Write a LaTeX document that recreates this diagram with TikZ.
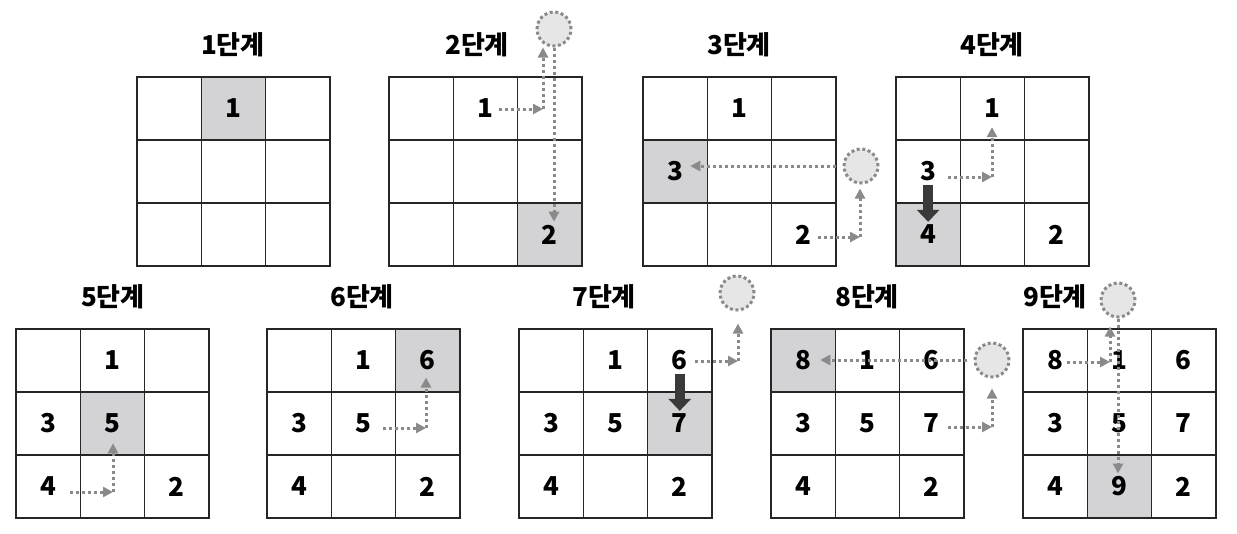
\documentclass[tikz,border=0pt]{standalone}
\usepackage{fontspec}
\setmainfont{Noto Sans CJK KR}
\usetikzlibrary{arrows.meta}
\definecolor{cellgray}{HTML}{D3D2D4}
\definecolor{holegray}{HTML}{E6E6E6}
\definecolor{dotgray}{HTML}{8A8A8A}
\definecolor{darkarrow}{HTML}{3A3A3A}
\begin{document}
\begin{tikzpicture}[x=1pt,y=-1pt,
  cell/.style={draw=black!85,line width=1.5pt},
  num/.style={font=\bfseries\fontsize{26}{26}\selectfont,inner sep=3pt},
  title/.style={font=\bfseries\fontsize{26}{26}\selectfont},
  hole/.style={circle,minimum size=34pt,inner sep=0pt,fill=holegray,draw=dotgray,line width=3pt,dash pattern=on 3pt off 2.6pt},
  dotarr/.style={draw=dotgray,line width=3pt,dash pattern=on 3pt off 3pt,-{Triangle[length=10pt,width=10pt]}},
  bigarr/.style={draw=darkarrow,line width=10.5pt,-{Triangle[length=12pt,width=22pt]}}]
\useasboundingbox (0,0) rectangle (1237,533);

% grids: number, origin, shaded cell, numbers in it
\foreach \g/\gx/\gy/\hc/\hr/\cells in {
  1/137/77/1/0/{1/1/0},
  2/389/77/2/2/{1/1/0,2/2/2},
  3/643/77/0/1/{1/1/0,3/0/1,2/2/2},
  4/896/77/0/2/{1/1/0,3/0/1,4/0/2,2/2/2},
  5/16/329/1/1/{1/1/0,3/0/1,5/1/1,4/0/2,2/2/2},
  6/267/329/2/0/{1/1/0,6/2/0,3/0/1,5/1/1,4/0/2,2/2/2},
  7/519/329/2/1/{1/1/0,6/2/0,3/0/1,5/1/1,7/2/1,4/0/2,2/2/2},
  8/771/329/0/0/{8/0/0,1/1/0,6/2/0,3/0/1,5/1/1,7/2/1,4/0/2,2/2/2},
  9/1023/329/1/2/{8/0/0,1/1/0,6/2/0,3/0/1,5/1/1,7/2/1,4/0/2,9/1/2,2/2/2}}{
  \fill[cellgray] ({\gx+\hc*64.3},{\gy+\hr*63}) rectangle ++(64.3,63);
  \foreach \c in {0,1,2}
    \foreach \r in {0,1,2}
      \draw[cell] ({\gx+\c*64.3},{\gy+\r*63}) rectangle ++(64.3,63);
  \foreach \n/\c/\r in \cells
    \node[num] (g\g-\n) at ({\gx+(\c+.5)*64.3},{\gy+(\r+.5)*63}) {\n};
}

% titles
\node[title] (t1) at (233,45) {1단계};
\node[title] (t2) at (477,45) {2단계};
\node[title] (t3) at (739,45) {3단계};
\node[title] (t4) at (992,45) {4단계};
\node[title] (t5) at (113,297) {5단계};
\node[title] (t6) at (362,297) {6단계};
\node[title] (t7) at (604,297) {7단계};
\node[title] (t8) at (867,297) {8단계};
\node[title] (t9) at (1055,297) {9단계};

% empty places
\node[hole] (c2) at (554,29) {};
\node[hole] (c3) at (861,166) {};
\node[hole] (c7) at (737,293) {};
\node[hole] (c8) at (992,360) {};
\node[hole] (c9) at (1118,300) {};

% corners
\coordinate (g2k) at (543,109);
\coordinate (g3k) at (860,237);
\coordinate (g4k) at (992,177);
\coordinate (g5k) at (113,492);
\coordinate (g6k) at (426,428);
\coordinate (g7k) at (738,361);
\coordinate (g8k) at (992,427);
\coordinate (g9k) at (1110,362);

% 2
\draw[dotarr,shorten <=2pt] (g2-1.east |- g2k) -- (g2k);
\draw[dotarr] (g2k) -- (g2k |- c2.south);
\draw[dotarr] (c2.south) -- (c2.south |- g2-2.north);
% 3
\draw[dotarr,shorten <=3pt] (g3-2.east |- g3k) -- (g3k);
\draw[dotarr,shorten >=4pt] (g3k) -- (g3k |- c3.south);
\draw[dotarr,shorten <=7pt,shorten >=4pt] (c3.west) -- (c3.west -| g3-3.east);
% 4
\draw[dotarr,shorten <=9pt] (g4-3.east |- g4k) -- (g4k);
\draw[dotarr,shorten >=6pt] (g4k) -- (g4k |- g4-1.south);
\draw[bigarr] (g4-3.south) -- (g4-4.north);
% 5
\draw[dotarr,shorten <=11pt] (g5-4.east |- g5k) -- (g5k);
\draw[dotarr,shorten >=7pt] (g5k) -- (g5k |- g5-5.south);
% 6
\draw[dotarr,shorten <=8pt] (g6-5.east |- g6k) -- (g6k);
\draw[dotarr,shorten >=4pt] (g6k) -- (g6k |- g6-6.south);
% 7
\draw[dotarr,shorten <=4pt] (g7-6.east |- g7k) -- (g7k);
\draw[dotarr,shorten >=12pt] (g7k) -- (g7k |- c7.south);
\draw[bigarr] (g7-6.south) -- (g7-7.north);
% 8
\draw[dotarr,shorten <=7pt,shorten >=6pt] (c8.west) -- (c8.west -| g8-8.east);
\draw[dotarr,shorten <=5pt] (g8-7.east |- g8k) -- (g8k);
\draw[dotarr,shorten >=10pt] (g8k) -- (g8k |- c8.south);
% 9
\draw[dotarr,shorten <=1pt] (g9-8.east |- g9k) -- (g9k);
\draw[dotarr,shorten >=8pt] (g9k) -- (g9k |- c9.south);
\draw[dotarr] (c9.south) -- (c9.south |- g9-9.north);
\end{tikzpicture}
\end{document}
